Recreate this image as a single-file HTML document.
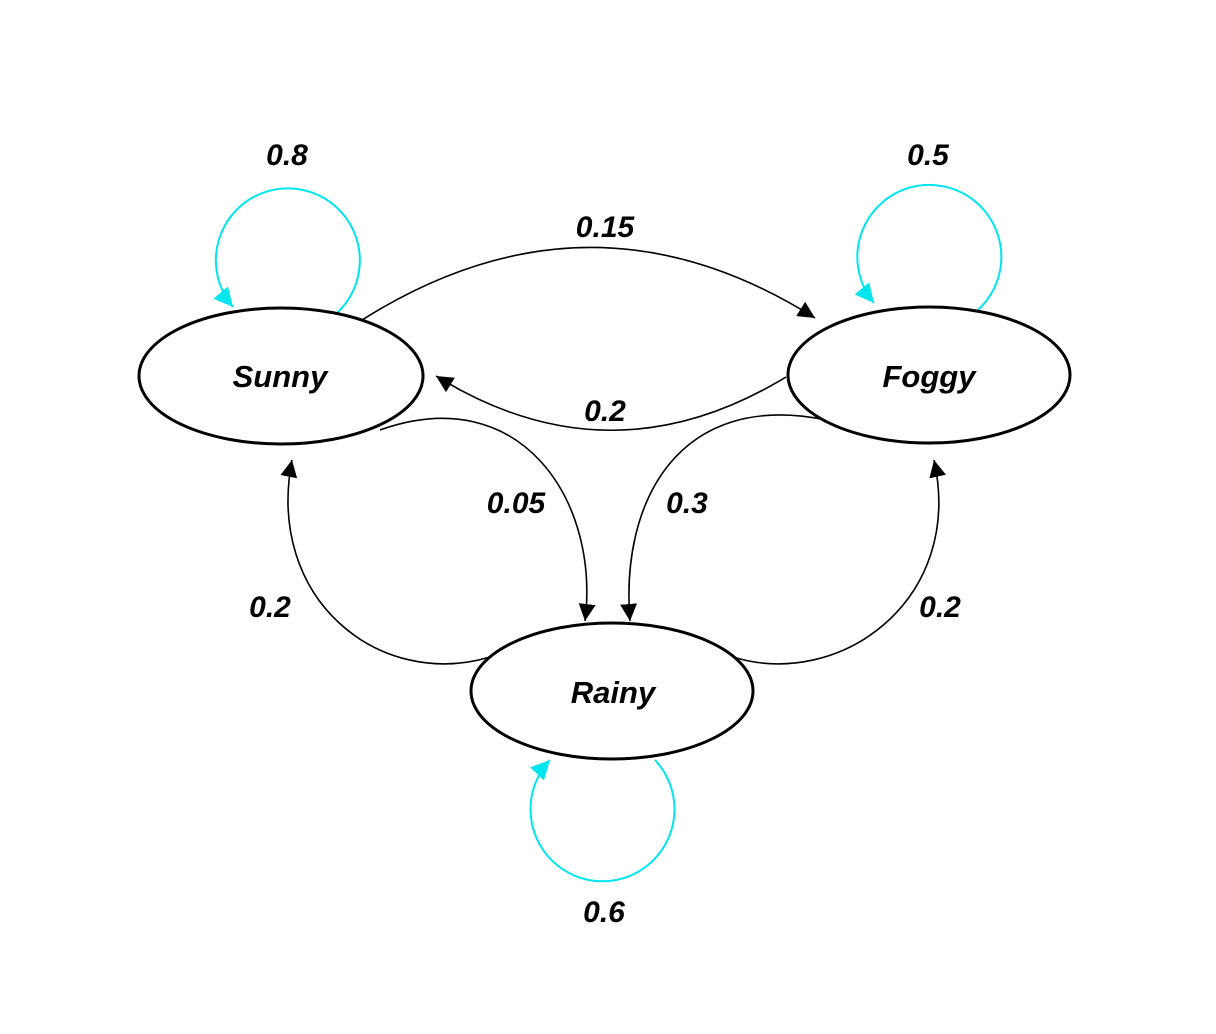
<!DOCTYPE html>
<html><head><meta charset="utf-8"><style>
html,body{margin:0;padding:0;background:#fff;}
svg{display:block;}
text{font-family:"Liberation Sans",sans-serif;font-weight:bold;font-style:italic;text-anchor:middle;fill:#000;}
</style></head><body>
<svg width="1216" height="1034" viewBox="0 0 1216 1034" xmlns="http://www.w3.org/2000/svg">
<defs>
<marker id="ab" viewBox="0 0 10 10" refX="10" refY="5" markerWidth="17" markerHeight="17" markerUnits="userSpaceOnUse" orient="auto"><path d="M0,0 L10,5 L0,10 z" fill="#000"/></marker>
<marker id="ac" viewBox="0 0 10 10" refX="10" refY="5" markerWidth="19" markerHeight="19" markerUnits="userSpaceOnUse" orient="auto"><path d="M0,0 L10,5 L0,10 z" fill="#00e5ee"/></marker>
</defs>
<g fill="none" stroke="#00e5ee" stroke-width="2">
<path d="M337,313 A72,72 0 1 0 233,307" marker-end="url(#ac)"/>
<path d="M978,310 A72,72 0 1 0 874,303" marker-end="url(#ac)"/>
<path d="M655,760 A72,72 0 1 1 550,760" marker-end="url(#ac)"/>
</g>
<g fill="none" stroke="#000" stroke-width="1.6">
<path d="M362,320 Q590,176 815,318" marker-end="url(#ab)"/>
<path d="M786,377 Q610,484 436,376" marker-end="url(#ab)"/>
<path d="M380,430 C520,380 600,500 585,621" marker-end="url(#ab)"/>
<path d="M826,420 C680,390 620,500 630,621" marker-end="url(#ab)"/>
<path d="M490,657 C380,690 265,600 292,460" marker-end="url(#ab)"/>
<path d="M733,657 C840,690 965,600 934,460" marker-end="url(#ab)"/>
</g>
<g fill="#fff" stroke="#000" stroke-width="3">
<ellipse cx="281" cy="376" rx="142" ry="68"/>
<ellipse cx="929" cy="375" rx="141" ry="68"/>
<ellipse cx="612" cy="691" rx="141" ry="68"/>
</g>
<g font-size="31">
<text x="280" y="387">Sunny</text>
<text x="929" y="387">Foggy</text>
<text x="613" y="703">Rainy</text>
</g>
<g font-size="30">
<text x="287" y="165">0.8</text>
<text x="928" y="165">0.5</text>
<text x="605" y="237">0.15</text>
<text x="605" y="421">0.2</text>
<text x="516" y="513">0.05</text>
<text x="687" y="513">0.3</text>
<text x="270" y="617">0.2</text>
<text x="940" y="617">0.2</text>
<text x="604" y="922">0.6</text>
</g>
</svg>
</body></html>
